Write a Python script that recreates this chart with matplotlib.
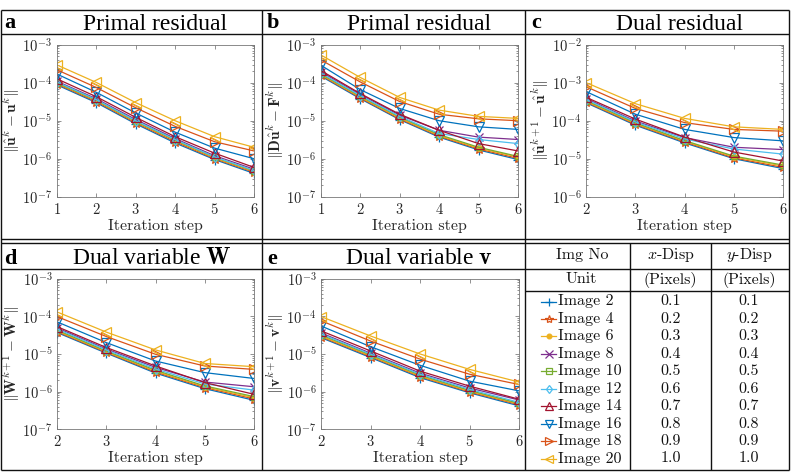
import math
import matplotlib
matplotlib.use('Agg')
import matplotlib.pyplot as plt
from matplotlib.ticker import FixedLocator, FuncFormatter, LogLocator, NullFormatter

plt.rcParams['font.family'] = 'serif'
plt.rcParams['font.serif'] = ['cmr10', 'DejaVu Serif']
plt.rcParams['mathtext.fontset'] = 'cm'
plt.rcParams['axes.formatter.use_mathtext'] = True

# ---------------- data ----------------
images = ['Image 2', 'Image 4', 'Image 6', 'Image 8', 'Image 10',
          'Image 12', 'Image 14', 'Image 16', 'Image 18', 'Image 20']
x_disp = [0.1, 0.2, 0.3, 0.4, 0.5, 0.6, 0.7, 0.8, 0.9, 1.0]
y_disp = [0.1, 0.2, 0.3, 0.4, 0.5, 0.6, 0.7, 0.8, 0.9, 1.0]

steps_ab = [1, 2, 3, 4, 5, 6]
steps_cde = [2, 3, 4, 5, 6]

primal_u = [
    [8.8e-5, 3.0e-5, 8.3e-6, 2.6e-6, 9.5e-7, 4.1e-7],
    [9.3e-5, 3.2e-5, 8.8e-6, 2.8e-6, 1.0e-6, 4.4e-7],
    [9.8e-5, 3.4e-5, 9.3e-6, 3.0e-6, 1.05e-6, 4.6e-7],
    [1.1e-4, 3.8e-5, 1.08e-5, 3.4e-6, 1.2e-6, 5.3e-7],
    [1.0e-4, 3.5e-5, 9.7e-6, 3.1e-6, 1.1e-6, 4.8e-7],
    [1.05e-4, 3.6e-5, 1.0e-5, 3.2e-6, 1.12e-6, 4.9e-7],
    [1.27e-4, 4.3e-5, 1.23e-5, 3.8e-6, 1.4e-6, 5.9e-7],
    [1.7e-4, 5.6e-5, 1.6e-5, 5.0e-6, 1.9e-6, 1.0e-6],
    [2.2e-4, 7.5e-5, 2.2e-5, 7.1e-6, 2.8e-6, 1.6e-6],
    [2.95e-4, 1.02e-4, 3.0e-5, 1.0e-5, 3.8e-6, 2.0e-6],
]
primal_F = [
    [1.5e-4, 3.8e-5, 1.07e-5, 3.7e-6, 1.7e-6, 9.5e-7],
    [1.58e-4, 4.0e-5, 1.12e-5, 3.9e-6, 1.8e-6, 1.02e-6],
    [1.65e-4, 4.2e-5, 1.18e-5, 4.1e-6, 1.9e-6, 1.1e-6],
    [1.95e-4, 4.9e-5, 1.4e-5, 5.6e-6, 3.7e-6, 3.2e-6],
    [1.72e-4, 4.4e-5, 1.25e-5, 4.3e-6, 2.0e-6, 1.15e-6],
    [1.8e-4, 4.6e-5, 1.3e-5, 4.6e-6, 3.2e-6, 2.5e-6],
    [2.1e-4, 5.2e-5, 1.48e-5, 5.6e-6, 2.5e-6, 1.6e-6],
    [2.9e-4, 6.6e-5, 2.1e-5, 1.0e-5, 6.9e-6, 5.9e-6],
    [4.0e-4, 1.05e-4, 3.2e-5, 1.48e-5, 1.12e-5, 1.0e-5],
    [5.4e-4, 1.38e-4, 4.1e-5, 1.9e-5, 1.3e-5, 1.15e-5],
]
dual_res = [
    [2.95e-4, 7.6e-5, 2.6e-5, 1.0e-5, 5.5e-6],
    [3.1e-4, 8.0e-5, 2.75e-5, 1.05e-5, 5.9e-6],
    [3.25e-4, 8.4e-5, 2.9e-5, 1.12e-5, 6.4e-6],
    [3.8e-4, 9.8e-5, 3.6e-5, 2.0e-5, 1.74e-5],
    [3.4e-4, 8.8e-5, 3.0e-5, 1.17e-5, 6.8e-6],
    [3.6e-4, 9.3e-5, 3.3e-5, 1.8e-5, 1.32e-5],
    [4.1e-4, 1.1e-4, 3.7e-5, 1.5e-5, 8.7e-6],
    [5.8e-4, 1.48e-4, 5.9e-5, 3.6e-5, 2.95e-5],
    [7.8e-4, 2.1e-4, 8.9e-5, 5.9e-5, 5.3e-5],
    [1.0e-3, 2.8e-4, 1.15e-4, 6.9e-5, 5.9e-5],
]
dual_W = [
    [3.7e-5, 1.05e-5, 3.1e-6, 1.2e-6, 5.9e-7],
    [3.9e-5, 1.1e-5, 3.3e-6, 1.28e-6, 6.4e-7],
    [4.1e-5, 1.15e-5, 3.5e-6, 1.35e-6, 6.9e-7],
    [4.9e-5, 1.35e-5, 4.4e-6, 1.8e-6, 1.35e-6],
    [4.3e-5, 1.2e-5, 3.7e-6, 1.42e-6, 7.4e-7],
    [4.6e-5, 1.28e-5, 4.0e-6, 1.6e-6, 1.1e-6],
    [5.3e-5, 1.48e-5, 4.8e-6, 1.74e-6, 8.5e-7],
    [7.1e-5, 2.0e-5, 6.5e-6, 3.2e-6, 2.24e-6],
    [9.8e-5, 2.9e-5, 9.8e-6, 4.8e-6, 3.9e-6],
    [1.3e-4, 3.8e-5, 1.28e-5, 5.6e-6, 4.6e-6],
]
dual_v = [
    [2.7e-5, 8.0e-6, 2.35e-6, 9.3e-7, 4.2e-7],
    [2.85e-5, 8.5e-6, 2.5e-6, 9.8e-7, 4.5e-7],
    [3.0e-5, 8.9e-6, 2.6e-6, 1.03e-6, 4.7e-7],
    [3.6e-5, 1.05e-5, 3.1e-6, 1.25e-6, 6.0e-7],
    [3.2e-5, 9.4e-6, 2.75e-6, 1.08e-6, 4.9e-7],
    [3.4e-5, 9.9e-6, 2.9e-6, 1.15e-6, 5.2e-7],
    [4.1e-5, 1.2e-5, 3.5e-6, 1.4e-6, 6.3e-7],
    [5.5e-5, 1.56e-5, 5.0e-6, 1.9e-6, 1.05e-6],
    [7.6e-5, 2.2e-5, 7.3e-6, 2.9e-6, 1.55e-6],
    [9.8e-5, 3.0e-5, 1.0e-5, 3.9e-6, 1.8e-6],
]

# ---------------- styles ----------------
colors = ['#0072BD', '#D95319', '#EDB120', '#7E2F8E', '#77AC30',
          '#4DBEEE', '#A2142F', '#0072BD', '#D95319', '#EDB120']
markers = ['+', '*', '.', 'x', 's', 'd', '^', 'v', '>', '<']
msizes = [7, 7, 8, 6, 5, 5, 6.5, 6.5, 6.5, 6.5]

W, H = 792, 472
fig = plt.figure(figsize=(W / 100, H / 100), dpi=100)


def px_axes(l, t, r, b):
    return fig.add_axes([l / W, 1 - b / H, (r - l) / W, (b - t) / H])


def series_kw(i):
    filled = markers[i] == '.'
    return dict(color=colors[i], marker=markers[i], ms=msizes[i],
                mfc=colors[i] if filled else 'none', mec=colors[i],
                lw=0.9, mew=0.9)


def make_panel(box, xs, data, ylim, ylabel):
    ax = px_axes(*box)
    for i, vals in enumerate(data):
        ax.plot(xs, vals, **series_kw(i))
    ax.set_yscale('log')
    ax.set_xlim(xs[0], xs[-1])
    ax.set_ylim(*ylim)
    lo, hi = ylim
    exps = list(range(int(round(math.log10(lo))), int(round(math.log10(hi))) + 1))
    ax.yaxis.set_major_locator(FixedLocator([10.0 ** e for e in exps]))
    ax.yaxis.set_major_formatter(FuncFormatter(
        lambda v, p: r'$10^{%d}$' % round(math.log10(v))))
    ax.yaxis.set_minor_locator(LogLocator(base=10, subs=range(2, 10), numticks=20))
    ax.yaxis.set_minor_formatter(NullFormatter())
    ax.xaxis.set_major_locator(FixedLocator(xs))
    ax.tick_params(which='both', direction='in', top=True, right=True,
                   colors='#666666', labelcolor='#262626', labelsize=10.5,
                   width=0.5)
    ax.tick_params(which='major', length=3)
    ax.tick_params(which='minor', length=1.5)
    for s in ax.spines.values():
        s.set_color('#777777')
        s.set_linewidth(0.6)
    ax.set_xlabel('Iteration step', fontsize=11.5, color='#262626', labelpad=1.5)
    ax.set_ylabel(ylabel, fontsize=11, color='#262626')
    ax.yaxis.set_label_coords(-0.178, 0.5)
    return ax


make_panel((56.7, 44.7, 254, 196.7), steps_ab, primal_u, (1e-7, 1e-3),
           r'$\|\hat{\mathbf{u}}^k-\mathbf{u}^k\|$')
make_panel((320.7, 44.7, 518, 196.7), steps_ab, primal_F, (1e-7, 1e-3),
           r'$\|\mathbf{D}\hat{\mathbf{u}}^k-\mathbf{F}^k\|$')
make_panel((586.3, 44.7, 783, 196.7), steps_cde, dual_res, (1e-6, 1e-2),
           r'$\|\hat{\mathbf{u}}^{k+1}-\hat{\mathbf{u}}^k\|$')
make_panel((57.3, 278.7, 254, 429.3), steps_cde, dual_W, (1e-7, 1e-3),
           r'$\|\mathbf{W}^{k+1}-\mathbf{W}^k\|$')
make_panel((321.3, 278.7, 519, 429.3), steps_cde, dual_v, (1e-7, 1e-3),
           r'$\|\mathbf{v}^{k+1}-\mathbf{v}^k\|$')

# ---------------- overlay: frame, titles, table ----------------
ov = fig.add_axes([0, 0, 1, 1], zorder=10)
ov.set_xlim(0, W)
ov.set_ylim(H, 0)
ov.axis('off')

lk = dict(color='#111111', lw=1.0, solid_capstyle='butt')
for y in (10, 34, 239, 243, 268.5, 470):
    ov.plot([1, 788.5], [y, y], **lk)
ov.plot([525, 788.5], [291, 291], **lk)
for x in (1, 261.5, 525, 788.5):
    ov.plot([x, x], [10, 470], **lk)
for x in (630, 711):
    ov.plot([x, x], [243, 470], **lk)

title_font = dict(family='Liberation Serif', fontsize=17, color='#000000',
                  va='baseline', ha='center')
letter_font = dict(family='Liberation Serif', fontsize=16, fontweight='bold',
                   color='#000000', va='baseline', ha='left')
ov.text(4, 28.5, 'a', **letter_font)
ov.text(267, 28.5, 'b', **letter_font)
ov.text(531, 28.5, 'c', **letter_font)
ov.text(4, 264, 'd', **letter_font)
ov.text(267, 264, 'e', **letter_font)
ov.text(155, 30.5, 'Primal residual', **title_font)
ov.text(419, 30.5, 'Primal residual', **title_font)
ov.text(680, 30.5, 'Dual residual', **title_font)
ov.text(152, 264.5, r'Dual variable $\mathbf{W}$', **title_font)
ov.text(419, 264.5, r'Dual variable $\mathbf{v}$', **title_font)

hdr = dict(fontsize=11.5, color='#111111', ha='center', va='center')
ov.text(582, 255.5, 'Img No', **hdr)
ov.text(670.5, 255.5, r'$x$-Disp', **hdr)
ov.text(749, 255.5, r'$y$-Disp', **hdr)
ov.text(581, 279.5, 'Unit', **hdr)
ov.text(670.5, 279.5, '(Pixels)', **hdr)
ov.text(749, 279.5, '(Pixels)', **hdr)

row_y0, row_h = 301.5, 17.45
for i, name in enumerate(images):
    y = row_y0 + i * row_h
    kw = series_kw(i)
    kw['ms'] = kw['ms'] * 0.85
    ov.plot([541, 548.5, 556], [y, y, y], markevery=[1], **kw)
    ov.text(557.5, y, name, fontsize=11.5, color='#111111', ha='left', va='center')
    ov.text(670.5, y, '%.1f' % x_disp[i], fontsize=11.5, color='#111111',
            ha='center', va='center')
    ov.text(749, y, '%.1f' % y_disp[i], fontsize=11.5, color='#111111',
            ha='center', va='center')

fig.savefig('out.png', dpi=100)
